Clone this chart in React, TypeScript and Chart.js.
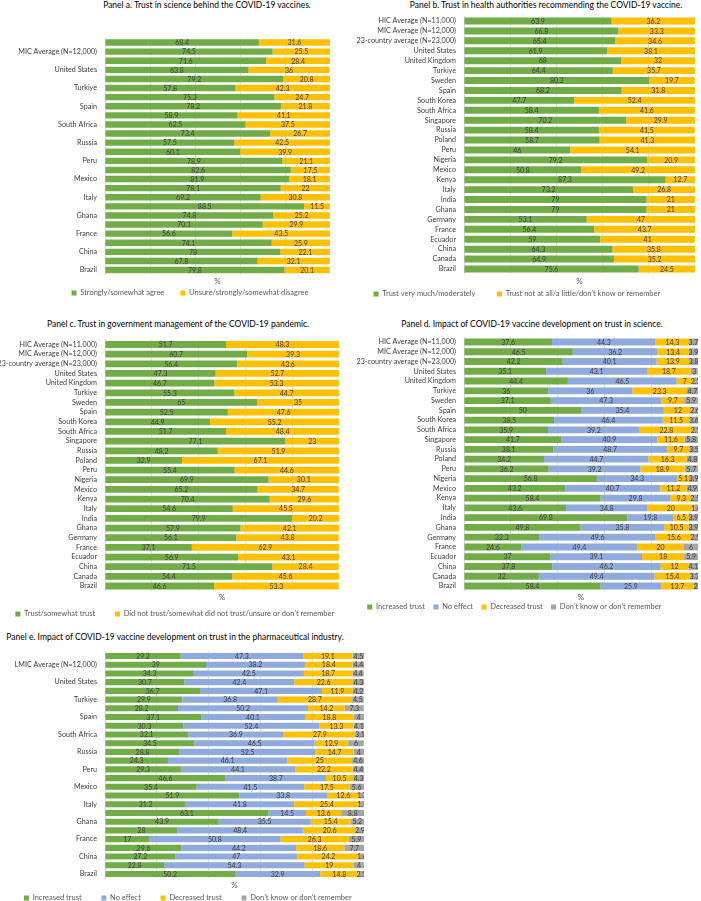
import React, { useEffect, useRef } from 'react';
import { Chart, registerables } from 'chart.js';
Chart.register(...registerables);

const FONT = 'Lato';
const GREEN = '#70AD47';
const YELLOW = '#FFC000';
const BLUE = '#8FAADC';
const GREY = '#A5A5A5';

const countries = ['HIC Average (N=11,000)', 'MIC Average (N=12,000)', '23-country average (N=23,000)', 'United States', 'United Kingdom', 'Turkiye', 'Sweden', 'Spain', 'South Korea', 'South Africa', 'Singapore', 'Russia', 'Poland', 'Peru', 'Nigeria', 'Mexico', 'Kenya', 'Italy', 'India', 'Ghana', 'Germany', 'France', 'Ecuador', 'China', 'Canada', 'Brazil'];
const pharmaCountries = ['HIC Average (N=11,000)', 'LMIC Average (N=12,000)', '23-country average (N=23,000)', 'United States', 'United Kingdom', 'Turkiye', 'Sweden', 'Spain', 'South Korea', 'South Africa', 'Singapore', 'Russia', 'Poland', 'Peru', 'Nigeria', 'Mexico', 'Kenya', 'Italy', 'India', 'Ghana', 'Germany', 'France', 'Ecuador', 'China', 'Canada', 'Brazil'];

const aAgree = [68.4, 74.5, 71.6, 63.8, 79.2, 57.8, 75.3, 78.2, 58.9, 62.5, 73.4, 57.5, 60.1, 78.9, 82.6, 81.9, 78.1, 69.2, 88.5, 74.8, 70.1, 56.6, 74.1, 78, 67.8, 79.8];
const aUnsure = [31.6, 25.5, 28.4, 36, 20.8, 42.3, 24.7, 21.8, 41.1, 37.5, 26.7, 42.5, 39.9, 21.1, 17.5, 18.1, 22, 30.8, 11.5, 25.2, 29.9, 43.5, 25.9, 22.1, 32.1, 20.1];

const bTrust = [63.9, 66.8, 65.4, 61.9, 68, 64.4, 80.2, 68.2, 47.7, 58.4, 70.2, 58.4, 58.7, 46, 79.2, 50.8, 87.3, 73.2, 79, 79, 53.1, 56.4, 59, 64.3, 64.9, 75.6];
const bNot = [36.2, 33.3, 34.6, 38.1, 32, 35.7, 19.7, 31.8, 52.4, 41.6, 29.9, 41.5, 41.3, 54.1, 20.9, 49.2, 12.7, 26.8, 21, 21, 47, 43.7, 41, 35.8, 35.2, 24.5];

const cTrust = [51.7, 60.7, 56.4, 47.3, 46.7, 55.3, 65, 52.5, 44.9, 51.7, 77.1, 48.2, 32.9, 55.4, 69.9, 65.2, 70.4, 54.6, 79.9, 57.9, 56.1, 37.1, 56.9, 71.5, 54.4, 46.6];
const cNot = [48.3, 39.3, 43.6, 52.7, 53.3, 44.7, 35, 47.6, 55.2, 48.4, 23, 51.9, 67.1, 44.6, 30.1, 34.7, 29.6, 45.5, 20.2, 42.1, 43.8, 62.9, 43.1, 28.4, 45.6, 53.3];

const dIncreased = [37.6, 46.5, 42.2, 35.1, 44.4, 36, 37.1, 50, 38.5, 35.9, 41.7, 38.1, 34.2, 36.2, 56.8, 43.2, 58.4, 43.6, 69.8, 49.8, 32.3, 24.6, 37, 37.8, 32, 58.4];
const dNoEffect = [44.3, 36.2, 40.1, 43.1, 46.5, 36, 47.3, 35.4, 46.4, 39.2, 40.9, 48.7, 44.7, 39.2, 34.3, 40.7, 29.8, 34.8, 19.8, 35.8, 49.6, 49.4, 39.1, 46.2, 49.4, 25.9];
const dDecreased = [14.3, 13.4, 13.9, 18.7, 7, 23.3, 9.7, 12, 11.5, 22.8, 11.6, 9.7, 16.3, 18.9, 5.1, 11.2, 9.3, 20, 6.5, 10.5, 15.6, 20, 18, 12, 15.4, 13.7];
const dDontKnow = [3.7, 3.9, 3.8, 3, 2.1, 4.7, 5.9, 2.6, 3.6, 2.1, 5.8, 3.5, 4.8, 5.7, 3.9, 4.9, 2.5, 1.6, 3.9, 3.9, 2.5, 6, 5.9, 4.1, 3.3, 2];

const eIncreased = [29.2, 39.0, 34.3, 30.7, 36.7, 29.9, 28.2, 37.1, 30.3, 32.1, 34.5, 28.8, 24.3, 29.3, 46.6, 35.4, 51.9, 31.2, 63.1, 43.9, 28, 17, 29.6, 27.2, 22.8, 50.2];
const eNoEffect = [47.3, 38.2, 42.5, 42.4, 47.1, 36.8, 50.2, 40.1, 52.4, 36.9, 46.5, 52.5, 46.1, 44.1, 38.7, 41.5, 33.8, 41.8, 14.5, 35.5, 48.4, 50.8, 44.2, 47, 54.3, 32.9];
const eDecreased = [19.1, 18.4, 18.7, 22.6, 11.9, 28.7, 14.2, 18.8, 13.3, 27.9, 12.9, 14.7, 25, 22.2, 10.5, 17.5, 12.6, 25.4, 13.6, 15.4, 20.6, 26.3, 18.6, 24.2, 19, 14.8];
const eDontKnow = [4.5, 4.4, 4.4, 4.3, 4.2, 4.5, 7.3, 4, 4.1, 3.1, 6, 4, 4.6, 4.4, 4.3, 5.6, 1.7, 1.7, 8.8, 5.2, 2.9, 5.9, 7.7, 1.6, 4, 2.1];

type Series = { label: string; data: number[]; color: string };
type Geo = {
  left: number; top: number; width: number; height: number;
  padT: number; padB: number;
  yW: number; p1: number; p2: number; legendGap: number; legendTrail: number;
};

const LEGEND_FS = 7.5;

function gapString(px: number): string {
  const q = Math.max(0, Math.round(px / (LEGEND_FS / 4)));
  let s = '\u2003'.repeat(Math.floor(q / 4));
  if (q % 4 >= 2) s += '\u2002';
  if (q % 2 === 1) s += '\u2005';
  return s;
}

const valueLabels = {
  id: 'valueLabels',
  afterDatasetsDraw(chart: any) {
    const ctx = chart.ctx;
    ctx.save();
    ctx.font = `7px ${FONT}`;
    ctx.fillStyle = '#404040';
    ctx.textAlign = 'center';
    ctx.textBaseline = 'middle';
    chart.data.datasets.forEach((ds: any, di: number) => {
      const meta = chart.getDatasetMeta(di);
      meta.data.forEach((el: any, i: number) => {
        const p = el.getProps(['x', 'base', 'y'], true);
        ctx.fillText(String(ds.data[i]), (p.x + p.base) / 2, p.y + 0.5);
      });
    });
    ctx.restore();
  },
};

function Panel({ geo, labels, sparse, series }: { geo: Geo; labels: string[]; sparse: boolean; series: Series[] }) {
  const ref = useRef<HTMLCanvasElement | null>(null);
  useEffect(() => {
    if (!ref.current) return;
    const n = series.length;
    const chart = new Chart(ref.current, {
      type: 'bar',
      data: {
        labels,
        datasets: series.map((s) => ({
          label: s.label,
          data: s.data,
          backgroundColor: s.color,
          borderWidth: 0,
          barPercentage: 0.7,
          categoryPercentage: 1,
        })),
      },
      options: {
        indexAxis: 'y',
        responsive: true,
        maintainAspectRatio: false,
        animation: false,
        layout: { padding: { left: 0, top: geo.padT, right: 0, bottom: geo.padB } },
        scales: {
          x: {
            stacked: true,
            min: 0,
            max: 100,
            ticks: { display: false, stepSize: 20 },
            grid: { color: '#D9D9D9', lineWidth: 0.75, drawTicks: false },
            border: { display: false },
            title: {
              display: true,
              text: '%',
              color: '#595959',
              font: { family: FONT, size: 8, lineHeight: 1 },
              padding: { top: geo.p1, bottom: geo.p2 },
            },
          },
          y: {
            stacked: true,
            ticks: {
              autoSkip: false,
              padding: 8,
              color: '#404040',
              font: { family: FONT, size: 7.2 },
              callback: (_v: any, idx: number) => (sparse && idx % 2 === 0 ? '' : labels[idx]),
            },
            grid: { display: false, drawTicks: false },
            border: { display: true, color: '#D9D9D9', width: 0.75 },
            afterFit: (scale: any) => {
              scale.width = geo.yW;
            },
          },
        },
        plugins: {
          legend: {
            position: 'bottom',
            align: 'end',
            labels: {
              boxWidth: 5,
              boxHeight: 5,
              padding: 1,
              color: '#595959',
              font: { family: FONT, size: LEGEND_FS },
              generateLabels: (ch: any) => {
                const items = Chart.defaults.plugins.legend.labels.generateLabels(ch);
                return items.map((it: any, i: number) => ({
                  ...it,
                  lineWidth: 0,
                  text: it.text + gapString(i < n - 1 ? geo.legendGap : geo.legendTrail),
                }));
              },
            },
          },
          tooltip: { enabled: false },
          title: { display: false },
        },
      } as any,
      plugins: [valueLabels],
    });
    return () => chart.destroy();
  }, []);
  return (
    <div style={{ position: 'absolute', left: geo.left, top: geo.top, width: geo.width, height: geo.height }}>
      <canvas ref={ref} />
    </div>
  );
}

function Title({ x, y, text }: { x: number; y: number; text: string }) {
  return (
    <div
      style={{
        position: 'absolute',
        left: x,
        top: y,
        transform: 'translate(-50%, -50%)',
        whiteSpace: 'nowrap',
        fontFamily: FONT,
        fontSize: 8.5,
        color: '#000',
        lineHeight: 1,
      }}
    >
      {text}
    </div>
  );
}

const geoA: Geo = { left: 0, top: 0, width: 330, height: 307, padT: 38, padB: 0.25, yW: 105, p1: 2.4, p2: 3.25, legendGap: 19, legendTrail: 27 };
const geoB: Geo = { left: 350, top: 0, width: 345, height: 308, padT: 16.04, padB: 0.25, yW: 114, p1: 3.04, p2: 4.25, legendGap: 26, legendTrail: 44 };
const geoC: Geo = { left: 0, top: 310, width: 339, height: 318, padT: 29.67, padB: 0.25, yW: 105, p1: 2.17, p2: 8.25, legendGap: 25, legendTrail: 4 };
const geoD: Geo = { left: 350, top: 310, width: 348, height: 311, padT: 27.12, padB: 0.25, yW: 114, p1: 2.12, p2: 1.25, legendGap: 10, legendTrail: 46 };
const geoE: Geo = { left: 0, top: 630, width: 364, height: 282, padT: 21.64, padB: 0.25, yW: 105, p1: 2.64, p2: 4.25, legendGap: 24, legendTrail: 13 };

export default function App() {
  return (
    <div style={{ position: 'absolute', left: 0, top: 0, width: 701, height: 901, overflow: 'hidden', background: '#fff' }}>
      <Title x={207} y={5} text="Panel a. Trust in science behind the COVID-19 vaccines." />
      <Title x={546} y={5} text="Panel b. Trust in health authorities recommending the COVID-19 vaccine." />
      <Title x={178} y={324} text="Panel c. Trust in government management of the COVID-19 pandemic." />
      <Title x={532} y={324} text="Panel d. Impact of COVID-19 vaccine development on trust in science." />
      <Title x={175} y={637} text="Panel e. Impact of COVID-19 vaccine development on trust in the pharmaceutical industry." />
      <Panel
        geo={geoA}
        labels={countries}
        sparse={true}
        series={[
          { label: 'Strongly/somewhat agree', data: aAgree, color: GREEN },
          { label: 'Unsure/strongly/somewhat disagree', data: aUnsure, color: YELLOW },
        ]}
      />
      <Panel
        geo={geoB}
        labels={countries}
        sparse={false}
        series={[
          { label: 'Trust very much/moderately', data: bTrust, color: GREEN },
          { label: 'Trust not at all/a little/don\u2019t know or remember', data: bNot, color: YELLOW },
        ]}
      />
      <Panel
        geo={geoC}
        labels={countries}
        sparse={false}
        series={[
          { label: 'Trust/somewhat trust', data: cTrust, color: GREEN },
          { label: 'Did not trust/somewhat did not trust/unsure or don\u2019t remember', data: cNot, color: YELLOW },
        ]}
      />
      <Panel
        geo={geoD}
        labels={countries}
        sparse={false}
        series={[
          { label: 'Increased trust', data: dIncreased, color: GREEN },
          { label: 'No effect', data: dNoEffect, color: BLUE },
          { label: 'Decreased trust', data: dDecreased, color: YELLOW },
          { label: 'Don\u2019t know or don\u2019t remember', data: dDontKnow, color: GREY },
        ]}
      />
      <Panel
        geo={geoE}
        labels={pharmaCountries}
        sparse={true}
        series={[
          { label: 'Increased trust', data: eIncreased, color: GREEN },
          { label: 'No effect', data: eNoEffect, color: BLUE },
          { label: 'Decreased trust', data: eDecreased, color: YELLOW },
          { label: 'Don\u2019t know or don\u2019t remember', data: eDontKnow, color: GREY },
        ]}
      />
    </div>
  );
}
